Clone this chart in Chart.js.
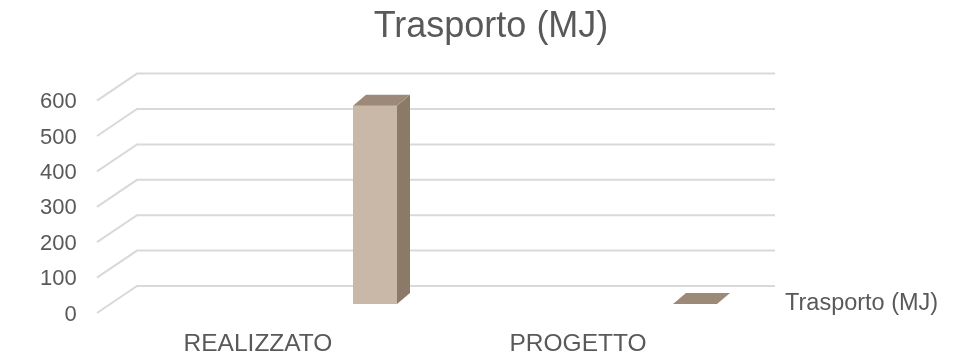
<!DOCTYPE html>
<html>
<head>
<meta charset="utf-8">
<script src="https://cdn.jsdelivr.net/npm/chart.js@4.4.1/dist/chart.umd.min.js"></script>
<style>
  html, body { margin: 0; padding: 0; background: #ffffff; }
  #wrap { width: 955px; height: 360px; }
</style>
</head>
<body>
<div id="wrap"><canvas id="c" width="955" height="360"></canvas></div>
<script>
// ---- data ----
const chartTitle = 'Trasporto (MJ)';
const seriesName = 'Trasporto (MJ)';
const categories = ['REALIZZATO', 'PROGETTO'];
const values = [560, 0];
const yTickValues = [0, 100, 200, 300, 400, 500, 600];

// ---- style ----
const FONT = '"Liberation Sans", Arial, Helvetica, sans-serif';
const TEXT = '#595959';
const GRID = '#d9d9d9';
const FRONT = '#c9b8a8';
const SIDE = '#8b7a68';
const TOP = '#9c8977';
const DX = 13, DY = -11;

const depthPlugin = {
  id: 'depth3d',
  beforeDatasetsDraw(chart) {
    const { ctx, chartArea, scales: { y } } = chart;
    ctx.save();
    ctx.strokeStyle = GRID;
    ctx.lineWidth = 2;
    y.ticks.forEach(t => {
      const yp = y.getPixelForValue(t.value);
      ctx.beginPath();
      ctx.moveTo(chartArea.left - 118, yp + 9);
      ctx.lineTo(chartArea.left - 78, yp - 18);
      ctx.lineTo(chartArea.right - 80, yp - 18);
      ctx.stroke();
    });
    ctx.restore();
  },
  afterDatasetsDraw(chart) {
    const { ctx } = chart;
    const meta = chart.getDatasetMeta(0);
    ctx.save();
    meta.data.forEach(bar => {
      const p = bar.getProps(['x', 'y', 'base', 'width'], true);
      const l = p.x - p.width / 2, r = p.x + p.width / 2;
      const top = Math.min(p.y, p.base), bot = Math.max(p.y, p.base);
      if (bot - top > 0.5) {
        ctx.fillStyle = SIDE;
        ctx.beginPath();
        ctx.moveTo(r, top);
        ctx.lineTo(r + DX, top + DY);
        ctx.lineTo(r + DX, bot + DY);
        ctx.lineTo(r, bot);
        ctx.closePath();
        ctx.fill();
      }
      ctx.fillStyle = TOP;
      ctx.beginPath();
      ctx.moveTo(l, top);
      ctx.lineTo(l + DX, top + DY);
      ctx.lineTo(r + DX, top + DY);
      ctx.lineTo(r, top);
      ctx.closePath();
      ctx.fill();
    });
    ctx.restore();
  },
  afterDraw(chart) {
    const { ctx, chartArea, scales: { y } } = chart;
    ctx.save();
    ctx.fillStyle = TEXT;
    ctx.font = '23.5px ' + FONT;
    ctx.textAlign = 'left';
    ctx.textBaseline = 'middle';
    ctx.fillText(seriesName, chartArea.right - 70, y.getPixelForValue(0));
    ctx.restore();
  }
};

new Chart(document.getElementById('c'), {
  type: 'bar',
  data: {
    labels: categories,
    datasets: [{
      label: seriesName,
      data: values,
      backgroundColor: FRONT,
      borderWidth: 0,
      barPercentage: 0.1375,
      categoryPercentage: 1
    }]
  },
  options: {
    responsive: false,
    devicePixelRatio: 1,
    animation: false,
    layout: { padding: { left: 127, right: 100, top: 0, bottom: 0 } },
    plugins: {
      legend: { display: false },
      tooltip: { enabled: false },
      title: {
        display: true,
        text: chartTitle,
        color: TEXT,
        font: { family: FONT, size: 36, weight: 'normal' },
        padding: { top: 5, bottom: 43.4 }
      }
    },
    scales: {
      x: {
        grid: { display: false },
        border: { display: false },
        ticks: {
          color: TEXT,
          font: { family: FONT, size: 24.5 },
          padding: 18,
          labelOffset: -117,
          maxRotation: 0,
          autoSkip: false
        },
        afterFit(scale) {
          scale.height = 56;
          scale.paddingLeft = 0;
          scale.paddingRight = 0;
        }
      },
      y: {
        min: 0,
        max: 600,
        grid: { display: false },
        border: { display: false },
        afterBuildTicks(scale) { scale.ticks = yTickValues.map(v => ({ value: v })); },
        ticks: {
          color: TEXT,
          font: { family: FONT, size: 22 },
          mirror: true,
          crossAlign: 'far',
          padding: -175,
          labelOffset: 10.5,
          autoSkip: false
        },
        afterFit(scale) {
          scale.width = 88;
          scale.paddingTop = 0;
          scale.paddingBottom = 0;
        }
      }
    }
  },
  plugins: [depthPlugin]
});
</script>
</body>
</html>
